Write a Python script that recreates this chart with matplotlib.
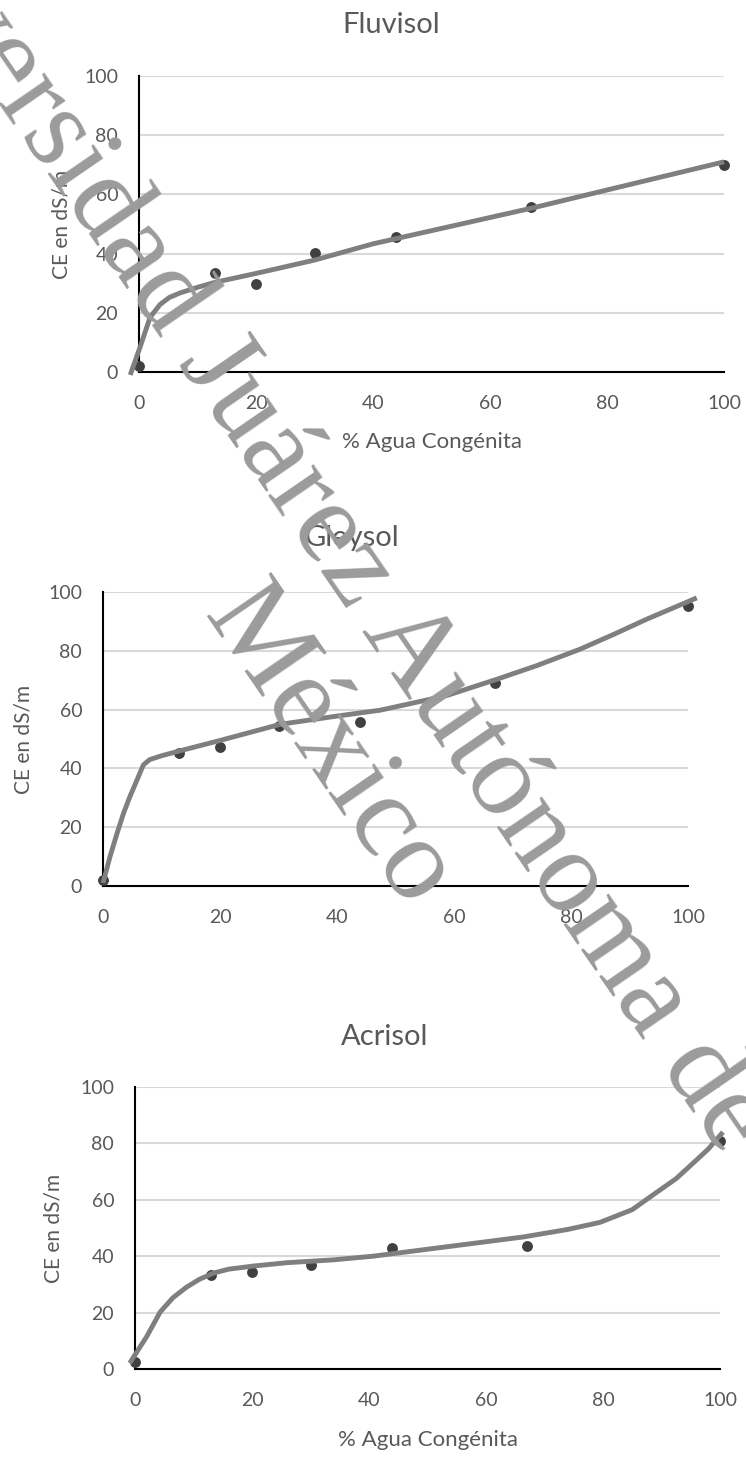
import matplotlib
matplotlib.use('Agg')
import matplotlib.pyplot as plt

plt.rcParams['font.family'] = ['Lato', 'DejaVu Sans']

W, H = 746, 1475

# % agua congénita (x) used by every soil
pct_agua = [0, 13, 20, 30, 44, 67, 100]
ticks = [0, 20, 40, 60, 80, 100]

# measured CE (dS/m)
fluvisol_ce = [2, 33.4, 29.7, 40.2, 45.6, 55.7, 69.9]
gleysol_ce = [2, 45.2, 47.3, 54.4, 55.8, 69, 95.2]
acrisol_ce = [2.5, 33.3, 34.4, 36.9, 42.9, 43.6, 80.9]

# smoothed trend lines
fluvisol_lx = [-1.5, 0.2, 1.9, 3.6, 5.2, 7, 10, 13, 20, 30, 40, 67, 100]
fluvisol_ly = [-1, 8.5, 18.5, 22.8, 25.2, 26.7, 28.6, 30.3, 33.3, 37.8, 43.3, 55.3, 71]
gleysol_lx = [0, 1.2, 2.4, 3.5, 4.6, 5.8, 6.9, 8, 10, 13.2, 20, 30.3, 40, 47.4,
              52, 58.8, 67.3, 74.2, 81.5, 87.2, 93, 101.5]
gleysol_ly = [1, 10, 17.9, 24.7, 30.4, 36, 41.2, 43, 44.3, 46, 49.5, 55, 57.8, 59.8,
              61.8, 64.8, 70.3, 75, 80.5, 85.5, 90.8, 98]
acrisol_lx = [-0.9, 2, 4.3, 6.5, 8.8, 11, 13.4, 16, 20.2, 26, 33.9, 40.7, 66.3, 74,
              79.5, 85, 89, 92.5, 95.4, 98, 100.5]
acrisol_ly = [2.1, 11.5, 20.2, 25.3, 29, 31.8, 34, 35.4, 36.5, 37.7, 38.7, 40, 46.8,
              49.5, 52, 56.5, 62.4, 67.5, 73, 78, 84]

fig = plt.figure(figsize=(W / 100, H / 100), dpi=100)
txt_col = '#595959'


def panel(box, title, title_xy, ce, lx, ly, ylab_x, xlab_y=None):
    left, top, right, bottom = box
    ax = fig.add_axes([left / W, 1 - bottom / H, (right - left) / W, (bottom - top) / H])
    ax.plot(pct_agua, ce, 'o', color='#404040', markersize=6.8, zorder=3, clip_on=False)
    ax.plot(lx, ly, color='#7f7f7f', linewidth=3.5, zorder=4, clip_on=False,
            solid_capstyle='butt', solid_joinstyle='round')
    ax.set_xlim(0, 100)
    ax.set_ylim(0, 100)
    ax.set_xticks(ticks)
    ax.set_yticks(ticks)
    ax.grid(axis='y', color='#d9d9d9', linewidth=1.5)
    ax.set_axisbelow(True)
    for s in ['top', 'right']:
        ax.spines[s].set_visible(False)
    for s in ['left', 'bottom']:
        ax.spines[s].set_color('black')
        ax.spines[s].set_linewidth(1.5)
    ax.tick_params(axis='x', length=0, pad=16.5, labelsize=14, labelcolor=txt_col)
    ax.tick_params(axis='y', length=0, pad=15, labelsize=14, labelcolor=txt_col)
    fig.text(title_xy[0] / W, 1 - title_xy[1] / H, title, ha='center', va='center',
             fontsize=21, color=txt_col)
    fig.text(ylab_x / W, 1 - (top + bottom) / 2 / H, 'CE en dS/m', rotation=90,
             ha='center', va='center', fontsize=15, color=txt_col)
    if xlab_y is not None:
        fig.text((left + right) / 2 / W, 1 - xlab_y / H, '% Agua Congénita',
                 ha='center', va='center', fontsize=16, color=txt_col)
    return ax


panel((139, 76, 724, 372), 'Fluvisol', (391, 25), fluvisol_ce,
      fluvisol_lx, fluvisol_ly, 61, 442)
panel((103, 592, 688, 886), 'Gleysol', (352, 538), gleysol_ce,
      gleysol_lx, gleysol_ly, 24)
panel((135, 1087, 720, 1369), 'Acrisol', (385, 1037), acrisol_ce,
      acrisol_lx, acrisol_ly, 54, 1440)

# watermark
wm = dict(family='Liberation Serif', fontsize=85, color='#9b9b9b', rotation=-55.5,
          rotation_mode='anchor', ha='center', va='center', zorder=10)
fig.text(302 / W, 1 - 494 / H, 'Universidad Juárez Autónoma de', **wm)
fig.text(328 / W, 1 - 748 / H, 'México', **wm)

fig.savefig('out.png', dpi=100)
